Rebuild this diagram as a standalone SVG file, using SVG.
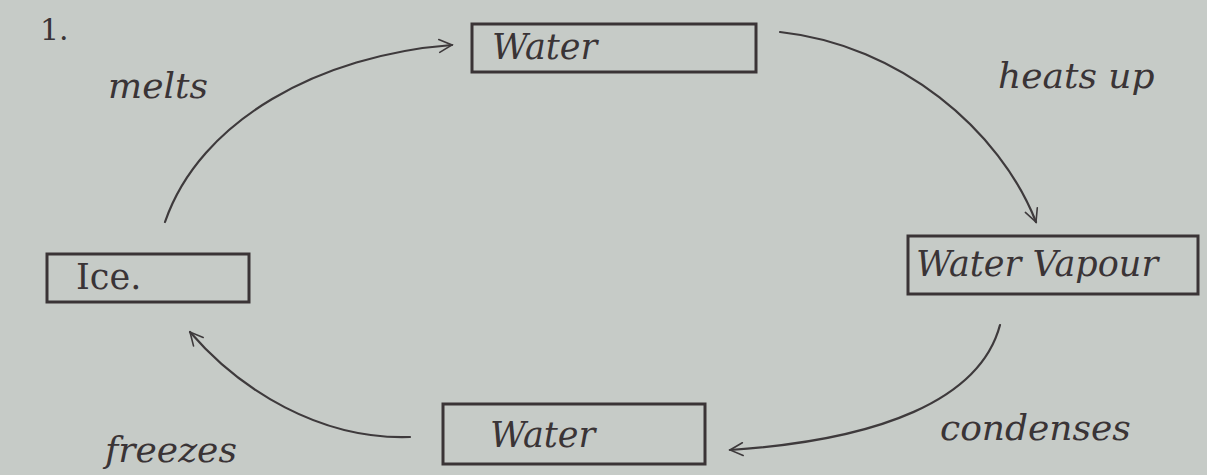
<svg xmlns="http://www.w3.org/2000/svg" width="1207" height="475" viewBox="0 0 1207 475">
<defs>
<style>
.bg{fill:#c6cbc7}
.box{fill:none;stroke:#3a3436;stroke-width:3}
.t{font-family:"DejaVu Serif","Liberation Serif",serif;font-style:italic;fill:#3a3436}
.up{font-style:normal}
.n{font-size:35px}
.l{font-size:36px}
.c{fill:none;stroke:#3e3a3c;stroke-width:2.2;stroke-linecap:round}
</style>
<marker id="ah" viewBox="0 0 20 20" refX="18" refY="10" markerWidth="16" markerHeight="16" markerUnits="userSpaceOnUse" orient="auto">
<path d="M2,2 L18,10 L2,18" fill="none" stroke="#3e3a3c" stroke-width="2" stroke-linecap="round"/>
</marker>
</defs>
<rect class="bg" x="0" y="0" width="1207" height="475"/>
<text class="t l up" x="40" y="40" style="font-size:30px">1.</text>
<text class="t l" x="108" y="98">melts</text>
<text class="t l" x="998" y="88">heats up</text>
<text class="t l" x="940" y="440">condenses</text>
<text class="t l" x="105" y="462">freezes</text>
<g id="connectors">
<path class="c" d="M165,222 C200,120 320,55 452,45" marker-end="url(#ah)"/>
<path class="c" d="M780,32 C900,45 1000,130 1036,222" marker-end="url(#ah)"/>
<path class="c" d="M1000,325 C980,400 880,440 730,450" marker-end="url(#ah)"/>
<path class="c" d="M410,437 C320,440 240,390 190,332" marker-end="url(#ah)"/>
</g>
<g id="node-water-top">
<rect class="box" x="472" y="24" width="284" height="48"/>
<text class="t n" x="492" y="59">Water</text>
</g>
<g id="node-water-vapour">
<rect class="box" x="908" y="236" width="290" height="58"/>
<text class="t n" x="916" y="276">Water Vapour</text>
</g>
<g id="node-ice">
<rect class="box" x="47" y="254" width="202" height="48"/>
<text class="t n up" x="76" y="289">Ice.</text>
</g>
<g id="node-water-bottom">
<rect class="box" x="443" y="404" width="262" height="60"/>
<text class="t n" x="490" y="447">Water</text>
</g>
</svg>
